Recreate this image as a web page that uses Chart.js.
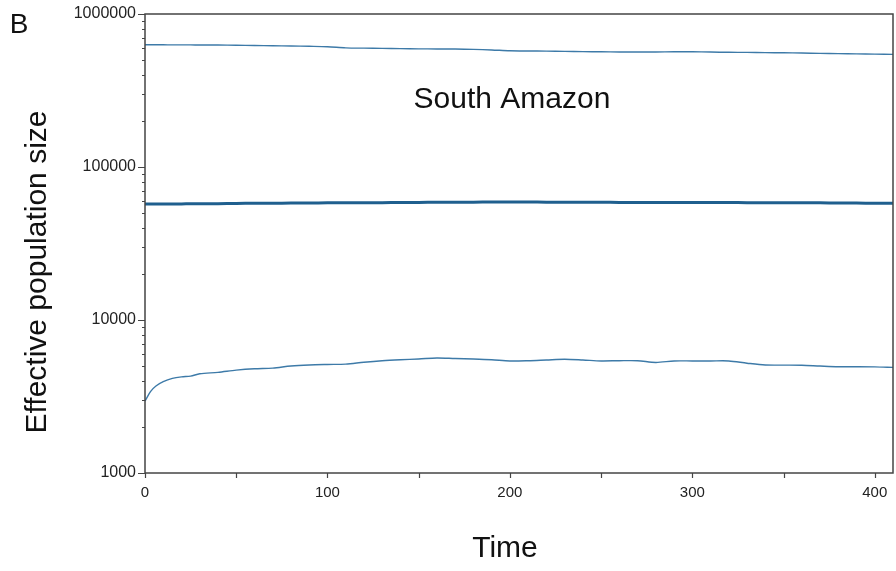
<!DOCTYPE html>
<html>
<head>
<meta charset="utf-8">
<script src="https://cdn.jsdelivr.net/npm/chart.js@4/dist/chart.umd.min.js"></script>
<style>
  body { margin: 0; background: #fff; }
  #wrap { width: 896px; height: 571px; }
</style>
</head>
<body>
<div id="wrap"><canvas id="neChart"></canvas></div>
<script>
// time points (generations)
const time = [0, 3, 6, 10, 15, 20, 25, 30, 40, 50, 60, 70, 80, 90, 100, 110, 120, 130, 140, 150,
  160, 170, 180, 190, 200, 210, 220, 230, 240, 250, 260, 270, 280, 290, 300, 310, 320, 330,
  340, 350, 360, 370, 380, 390, 400, 410];

// upper bound
const upperNe = [630000, 630000, 629000, 629000, 628000, 628000, 628000, 627000, 627000, 625000,
  622000, 620000, 618000, 615000, 611000, 601000, 598000, 596000, 594000, 592000,
  591000, 590000, 587000, 582000, 575000, 573000, 572000, 570000, 568000, 566000,
  565000, 565000, 565000, 566000, 566000, 564000, 562000, 561000, 559000, 558000,
  556000, 553000, 551000, 549000, 547000, 545000];

// median
const medianNe = [57300, 57300, 57300, 57300, 57400, 57400, 57500, 57500, 57600, 57800,
  57900, 58000, 58100, 58200, 58300, 58400, 58500, 58500, 58600, 58700,
  58800, 58900, 58900, 59000, 59000, 59000, 58900, 58900, 58800, 58800,
  58700, 58700, 58700, 58700, 58700, 58600, 58600, 58500, 58500, 58400,
  58300, 58300, 58200, 58100, 58000, 58000];

// lower bound
const lowerNe = [2950, 3400, 3700, 3950, 4150, 4250, 4300, 4450, 4550, 4700,
  4800, 4850, 5000, 5080, 5120, 5150, 5300, 5420, 5500, 5560,
  5650, 5600, 5560, 5500, 5400, 5420, 5480, 5540, 5480, 5400,
  5420, 5420, 5280, 5400, 5400, 5400, 5400, 5220, 5080, 5070,
  5060, 5000, 4950, 4950, 4940, 4900];

const yLabels = [1000, 10000, 100000, 1000000];
const xLabels = [0, 100, 200, 300, 400];

const textFont = "'Liberation Sans', Arial, sans-serif";

function pts(vals) {
  return time.map((t, i) => ({ x: t, y: vals[i] }));
}

// frame, tick marks, titles and panel letter
const decor = {
  id: 'decor',
  afterDraw(chart) {
    const ctx = chart.ctx;
    const a = chart.chartArea;
    const xs = chart.scales.x;
    const ys = chart.scales.y;
    ctx.save();
    ctx.strokeStyle = '#444';
    ctx.lineWidth = 1.5;
    ctx.strokeRect(a.left, a.top, a.right - a.left, a.bottom - a.top);

    ctx.lineWidth = 1.2;
    ctx.beginPath();
    for (let d = 1000; d < 1000000; d *= 10) {
      for (let m = 1; m <= 9; m++) {
        const py = Math.round(ys.getPixelForValue(d * m)) + 0.5;
        const len = m === 1 ? 7 : 3;
        ctx.moveTo(a.left - len, py);
        ctx.lineTo(a.left, py);
      }
    }
    const pTop = Math.round(ys.getPixelForValue(1000000)) + 0.5;
    ctx.moveTo(a.left - 7, pTop);
    ctx.lineTo(a.left, pTop);
    for (let t = 0; t <= 400; t += 50) {
      const px = Math.round(xs.getPixelForValue(t)) + 0.5;
      ctx.moveTo(px, a.bottom);
      ctx.lineTo(px, a.bottom + 5);
    }
    ctx.stroke();

    ctx.fillStyle = '#111';
    ctx.textAlign = 'center';
    ctx.textBaseline = 'middle';
    ctx.font = '30px ' + textFont;
    ctx.fillText('Time', 505, 549);
    ctx.fillText('South Amazon', 512, 100);
    ctx.font = '28px ' + textFont;
    ctx.fillText('B', 19, 25);
    ctx.translate(38, 272);
    ctx.rotate(-Math.PI / 2);
    ctx.font = '30px ' + textFont;
    ctx.fillText('Effective population size', 0, 0);
    ctx.restore();
  }
};

new Chart(document.getElementById('neChart'), {
  type: 'line',
  data: {
    datasets: [
      { label: 'upper', data: pts(upperNe), borderColor: '#3d7aa8', borderWidth: 1.4 },
      { label: 'median', data: pts(medianNe), borderColor: '#1f5f8e', borderWidth: 3 },
      { label: 'lower', data: pts(lowerNe), borderColor: '#3d7aa8', borderWidth: 1.4 }
    ]
  },
  options: {
    responsive: true,
    maintainAspectRatio: false,
    animation: false,
    layout: { padding: { top: 14, right: 3, left: 0, bottom: 0 } },
    elements: { point: { radius: 0 }, line: { tension: 0.3 } },
    plugins: { legend: { display: false }, tooltip: { enabled: false } },
    scales: {
      x: {
        type: 'linear',
        min: 0,
        max: 410,
        afterFit(s) { s.height = 98; },
        afterBuildTicks(s) { s.ticks = xLabels.map(v => ({ value: v })); },
        grid: { display: false },
        border: { display: false },
        ticks: { color: '#222', font: { family: textFont, size: 15 }, padding: 3, maxRotation: 0 }
      },
      y: {
        type: 'logarithmic',
        min: 1000,
        max: 1000000,
        afterFit(s) { s.width = 145; },
        afterBuildTicks(s) { s.ticks = yLabels.map(v => ({ value: v })); },
        grid: { display: false },
        border: { display: false },
        ticks: {
          color: '#222',
          font: { family: textFont, size: 16 },
          padding: 1,
          callback: v => String(v)
        }
      }
    }
  },
  plugins: [decor]
});
</script>
</body>
</html>
